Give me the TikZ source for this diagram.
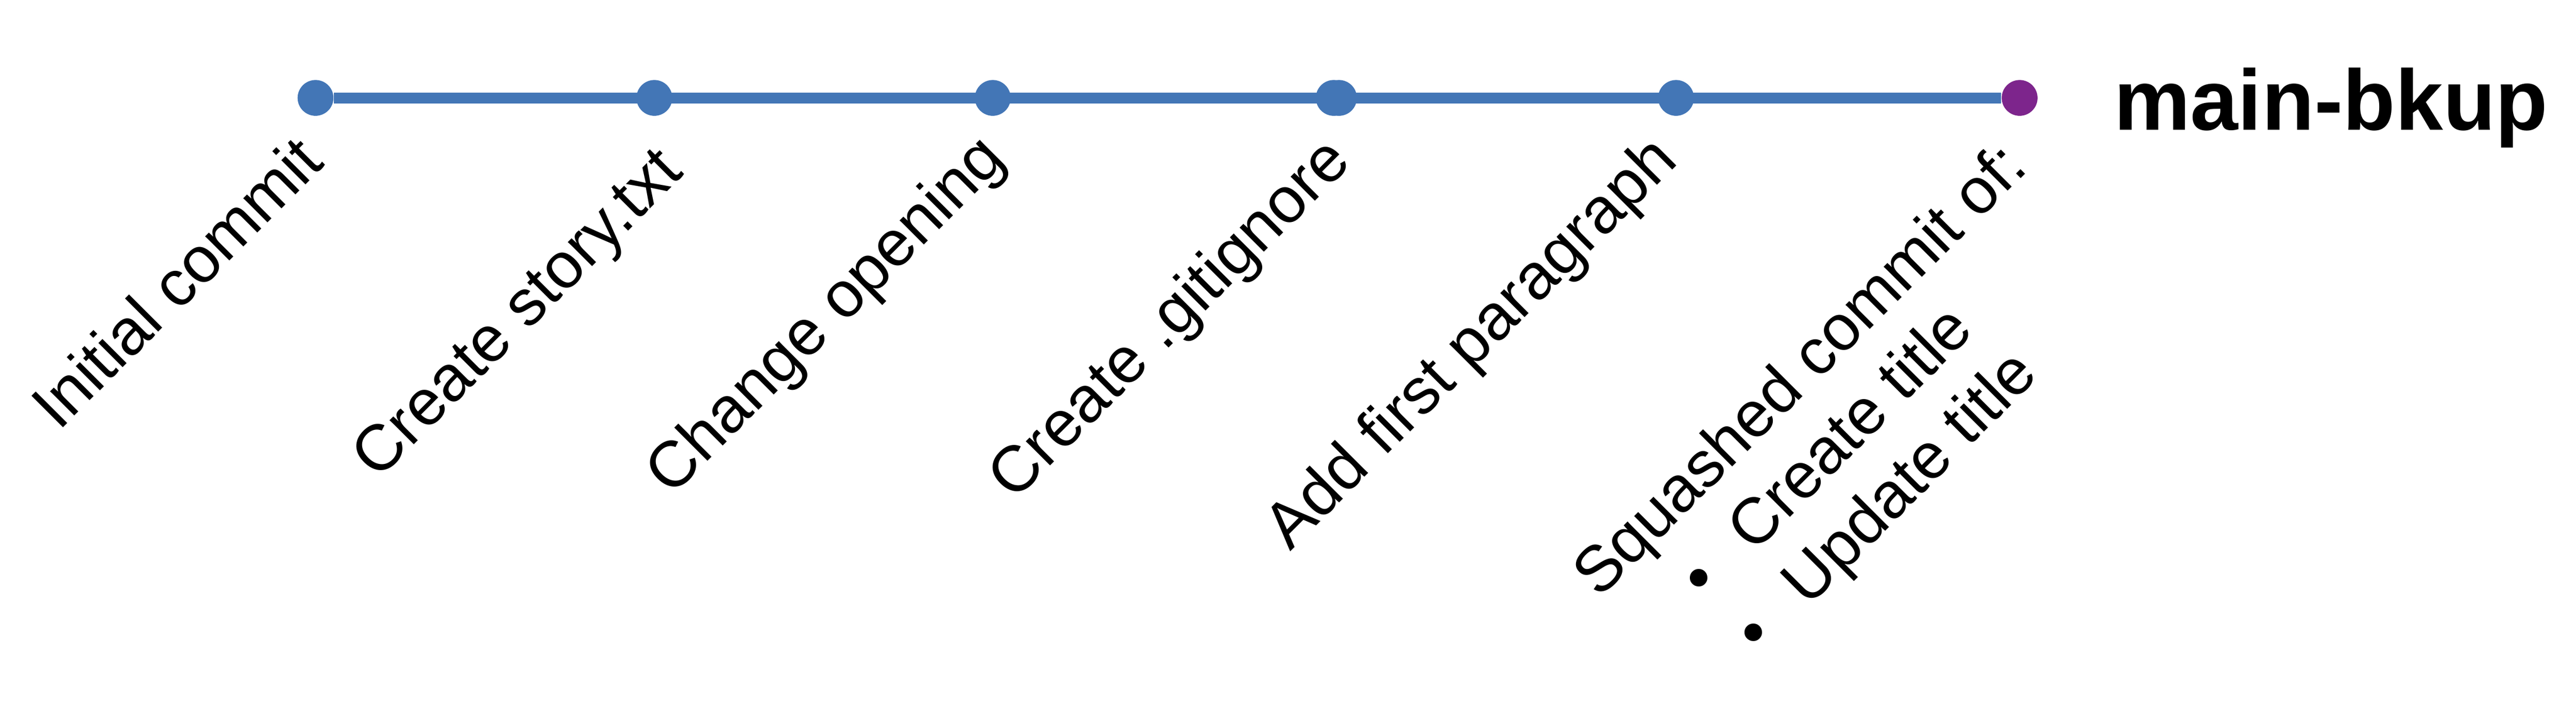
\documentclass[tikz,border=0pt]{standalone}
\usepackage{fontspec}
\setmainfont{Liberation Sans}
\definecolor{commitblue}{RGB}{67,118,182}
\definecolor{tippurple}{RGB}{125,37,140}

\begin{document}
\begin{tikzpicture}
        [every node/.style={inner sep=0pt},
         commit/.style={circle,fill=commitblue,minimum size=0.415cm},
         msg/.style={rotate=45,anchor=base east,font=\fontsize{21.34}{25}\selectfont},
         item/.style={msg,anchor=base west}]
        \useasboundingbox (0,0) rectangle (29.84,8.41);

        \node[commit] (c1) at (3.655, 7.275) {};
        \node[commit] (c2) at (7.58, 7.275) {};
        \node[commit] (c3) at (11.50, 7.275) {};
        \node[commit] (c4) at (15.45, 7.275) {};
        \node[commit] (c5) at (15.51, 7.275) {};
        \node[commit] (c6) at (19.415, 7.275) {};
        \node[commit,fill=tippurple] (c7) at (23.395, 7.275) {};

        \draw[commitblue,line width=0.125cm] (c1) -- (c7);

        \node[msg] (m1) at (3.78, 6.505) {Initial commit};
        \node[msg] (m2) at (7.94, 6.40) {Create story.txt};
        \node[msg] (m3) at (11.675, 6.545) {Change opening};
        \node[msg] (m4) at (15.675, 6.52) {Create .gitignore};
        \node[msg] (m5) at (19.46, 6.53) {Add first paragraph};
        \node[msg] (m6) at (23.515, 6.45) {Squashed commit of:};
        \node[item] (i1) at ([shift={(1.237,-0.021)}]m6.base west) {\textbullet\hspace{0.69em}Create title};
        \node[item] (i2) at ([shift={(1.867,-0.651)}]m6.base west) {\textbullet\hspace{0.69em}Update title};

        \node[anchor=base west,font=\bfseries\fontsize{28.3}{34}\selectfont] (branch) at (24.48, 6.90) {main-bkup};
\end{tikzpicture}
\end{document}
